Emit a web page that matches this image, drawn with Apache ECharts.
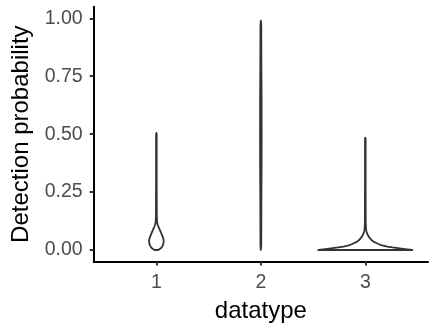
<!DOCTYPE html>
<html>
<head>
<meta charset="utf-8">
<script src="https://cdn.jsdelivr.net/npm/echarts@6/dist/echarts.min.js"></script>
<style>
  html, body { margin: 0; padding: 0; background: #fff; }
  #chart { width: 432px; height: 325px; }
</style>
</head>
<body>
<div id="chart"></div>
<script>
// Categories along the x axis
const datatypes = [1, 2, 3];
const yTicks = [0, 0.25, 0.5, 0.75, 1];

// Violin outlines: probability levels and half-widths (in category units)
const violin1Levels = [0, 0.003, 0.01, 0.02, 0.03, 0.04, 0.05, 0.06, 0.07, 0.08, 0.09, 0.10, 0.11, 0.12, 0.15, 0.30, 0.50, 0.505];
const violin1Half   = [0.014, 0.029, 0.048, 0.062, 0.068, 0.070, 0.066, 0.058, 0.049, 0.039, 0.030, 0.020, 0.012, 0.007, 0.004, 0.003, 0.003, 0];

const violin2Levels = [0, 0.02, 0.2, 0.35, 0.5, 0.65, 0.8, 0.97, 0.99];
const violin2Half   = [0, 0.004, 0.005, 0.007, 0.0075, 0.007, 0.005, 0.004, 0];

const violin3Levels = [0, 0.004, 0.007, 0.011, 0.015, 0.02, 0.025, 0.029, 0.035, 0.042, 0.05, 0.06, 0.07, 0.08, 0.09, 0.12, 0.30, 0.48, 0.485];
const violin3Half   = [0.45, 0.38, 0.33, 0.26, 0.21, 0.16, 0.13, 0.112, 0.082, 0.062, 0.046, 0.030, 0.018, 0.011, 0.007, 0.004, 0.003, 0.003, 0];

const violins = [
  { levels: violin1Levels, half: violin1Half },
  { levels: violin2Levels, half: violin2Half },
  { levels: violin3Levels, half: violin3Half }
];

const chart = echarts.init(document.getElementById('chart'), null, { renderer: 'canvas' });

const labelFont = { fontFamily: 'Liberation Sans, Arial, sans-serif', fontSize: 19.5, color: '#4D4D4D' };
const titleFont = { fontFamily: 'Liberation Sans, Arial, sans-serif', fontSize: 24, color: '#000' };

chart.setOption({
  animation: false,
  backgroundColor: '#fff',
  grid: { left: 93.7, right: 4, top: 6.7, bottom: 63.4, containLabel: false, outerBoundsMode: 'none' },
  xAxis: {
    type: 'value',
    min: 0.4,
    max: 3.6,
    name: 'datatype',
    nameLocation: 'middle',
    nameGap: 38,
    nameTextStyle: titleFont,
    axisLine: { show: true, onZero: false, lineStyle: { color: '#000', width: 2 } },
    axisTick: { show: true, length: 4, customValues: datatypes, lineStyle: { color: '#333', width: 2 } },
    axisLabel: Object.assign({ customValues: datatypes, margin: 11, formatter: v => String(v) }, labelFont),
    splitLine: { show: false }
  },
  yAxis: {
    type: 'value',
    min: -0.05,
    max: 1.05,
    name: 'Detection probability',
    nameLocation: 'middle',
    nameGap: 58,
    nameTextStyle: titleFont,
    axisLine: { show: true, onZero: false, lineStyle: { color: '#000', width: 2 } },
    axisTick: { show: true, length: 4, customValues: yTicks, lineStyle: { color: '#333', width: 2 } },
    axisLabel: Object.assign({ customValues: yTicks, margin: 11, formatter: v => v.toFixed(2) }, labelFont),
    splitLine: { show: false }
  },
  series: [{
    type: 'custom',
    data: datatypes.map(d => [d]),
    encode: { x: 0 },
    renderItem: function (params, api) {
      const v = violins[params.dataIndex];
      const cx = api.value(0);
      const left = v.levels.map((y, k) => api.coord([cx - v.half[k], y]));
      const right = v.levels.map((y, k) => api.coord([cx + v.half[k], y])).reverse();
      return {
        type: 'polygon',
        shape: { points: left.concat(right) },
        style: { fill: '#fff', stroke: '#333', lineWidth: 1.8, lineJoin: 'round' }
      };
    }
  }]
});
</script>
</body>
</html>
